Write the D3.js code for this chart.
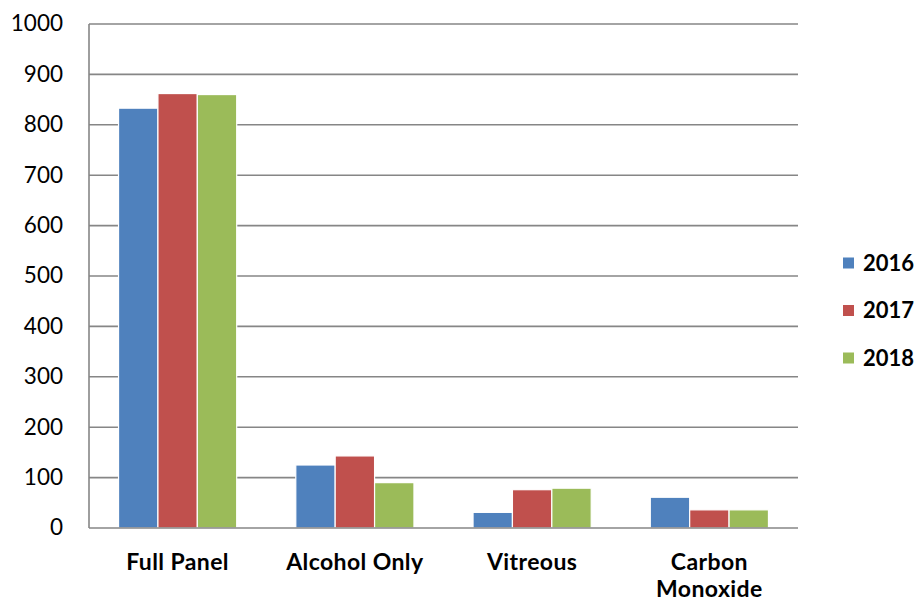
<!DOCTYPE html>
<html><head><meta charset="utf-8">
<script src="https://cdn.jsdelivr.net/npm/d3@7"></script>
<style>body{margin:0;background:#fff;}</style>
</head><body>
<svg id="c" width="919" height="602"></svg>
<script>
const categories = ["Full Panel", "Alcohol Only", "Vitreous", "Carbon Monoxide"];
const seriesNames = ["2016", "2017", "2018"];
const values2016 = [833, 125, 31, 61];
const values2017 = [862, 143, 76, 36];
const values2018 = [860, 90, 79, 36];
const yTicks = [0, 100, 200, 300, 400, 500, 600, 700, 800, 900, 1000];
const colors = ["#4f81bd", "#c0504d", "#9bbb59"];

(function () {
const seriesValues = [values2016, values2017, values2018];
const svg = d3.select("#c");
const pLeft = 89, pRight = 798, pTop = 24, pBottom = 528;
const font = "Lato, 'Open Sans', sans-serif";

const y = d3.scaleLinear().domain([0, 1000]).range([pBottom, pTop]);
const x0 = d3.scaleBand().domain(categories).range([pLeft, pRight]).paddingInner(1/3).paddingOuter(1/6);
const x1 = d3.scaleBand().domain(seriesNames).range([0, x0.bandwidth()]);

svg.append("g").selectAll("line").data(yTicks.filter(d => d > 0)).join("line")
  .attr("x1", pLeft).attr("x2", pRight)
  .attr("y1", d => y(d)).attr("y2", d => y(d))
  .attr("stroke", "#868686").attr("stroke-width", 1.6);

const groups = svg.append("g").selectAll("g").data(categories).join("g")
  .attr("transform", c => `translate(${x0(c)},0)`);
groups.selectAll("rect").data((c, i) => seriesNames.map((s, j) => ({s, j, v: seriesValues[j][i]}))).join("rect")
  .attr("x", d => x1(d.s)).attr("width", x1.bandwidth())
  .attr("y", d => y(d.v)).attr("height", d => pBottom - y(d.v))
  .attr("fill", d => colors[d.j]).attr("stroke", "#fff").attr("stroke-width", 1.2);

svg.append("line").attr("x1", pLeft).attr("x2", pLeft).attr("y1", pTop).attr("y2", pBottom)
  .attr("stroke", "#868686").attr("stroke-width", 1.6);
svg.append("line").attr("x1", pLeft).attr("x2", pRight).attr("y1", pBottom).attr("y2", pBottom)
  .attr("stroke", "#868686").attr("stroke-width", 1.6);

svg.append("g").selectAll("text").data(yTicks).join("text")
  .attr("x", 63).attr("y", d => y(d)).attr("dy", "0.33em")
  .attr("text-anchor", "end").attr("font-family", font).attr("font-size", 22.5)
  .attr("fill", "#000").text(d => d);

const xl = svg.append("g").selectAll("text").data(categories).join("text")
  .attr("x", c => x0(c) + x0.bandwidth() / 2).attr("y", 570)
  .attr("text-anchor", "middle").attr("font-family", font).attr("font-size", 23)
  .attr("letter-spacing", 0.4)
  .attr("font-weight", "bold").attr("fill", "#000");
xl.each(function(c) {
  const words = c === "Carbon Monoxide" ? ["Carbon", "Monoxide"] : [c];
  d3.select(this).selectAll("tspan").data(words).join("tspan")
    .attr("x", x0(c) + x0.bandwidth() / 2).attr("dy", (w, i) => i === 0 ? 0 : 27).text(w => w);
});

const lg = svg.append("g").selectAll("g").data(seriesNames).join("g")
  .attr("transform", (s, i) => `translate(843,${263 + i * 47.5})`);
lg.append("rect").attr("x", 0).attr("y", -5.5).attr("width", 11).attr("height", 11)
  .attr("fill", (s, i) => colors[i]);
lg.append("text").attr("x", 20).attr("y", 0).attr("dy", "0.36em")
  .attr("font-family", font).attr("font-size", 22).attr("font-weight", "bold").text(s => s);
})();
</script>
</body></html>
